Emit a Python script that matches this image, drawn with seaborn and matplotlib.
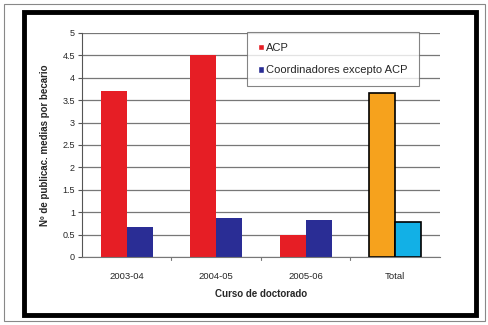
import matplotlib
matplotlib.use("Agg")
import matplotlib.pyplot as plt
import seaborn as sns
import pandas as pd
from matplotlib.patches import Rectangle, Patch

categories = ["2003-04", "2004-05", "2005-06", "Total"]
acp = [3.7, 4.5, 0.5, 3.65]
coord = [0.67, 0.86, 0.83, 0.78]
series_names = ["ACP", "Coordinadores excepto ACP"]
yticks = [0, 0.5, 1, 1.5, 2, 2.5, 3, 3.5, 4, 4.5, 5]
ytick_labels = ["0", "0.5", "1", "1.5", "2", "2.5", "3", "3.5", "4", "4.5", "5"]

df = pd.DataFrame({
    "curso": categories * 2,
    "serie": [series_names[0]] * 4 + [series_names[1]] * 4,
    "valor": acp + coord,
})

sns.set_style("white")
plt.rcParams["font.family"] = ["Liberation Sans", "DejaVu Sans"]

W, H = 489, 325
fig = plt.figure(figsize=(W / 100, H / 100), dpi=100)
fig.patch.set_facecolor("white")

# frames
fig.add_artist(Rectangle((4 / W, 4 / H), 481 / W, 317 / H, transform=fig.transFigure,
                         fill=False, edgecolor="#888888", linewidth=0.8))
fig.add_artist(Rectangle((24 / W, (H - 315) / H), 452 / W, 303 / H, transform=fig.transFigure,
                         fill=False, edgecolor="black", linewidth=3.5))

ax = fig.add_axes([82 / W, (H - 257) / H, (440 - 82) / W, (257 - 33) / H])
red, blue = "#e61e25", "#2a2d95"
sns.barplot(data=df, x="curso", y="valor", hue="serie", order=categories,
            hue_order=series_names, palette=[red, blue], width=0.58,
            saturation=1, ax=ax, legend=False, linewidth=0)

# Total bars coloured differently with black edges
n = len(categories)
for i, p in enumerate(ax.patches[:2 * n]):
    cat_idx = i % n
    p.set_linewidth(0)
    if cat_idx == n - 1:
        p.set_facecolor("#f6a21d" if i < n else "#12b0e6")
        p.set_edgecolor("black")
        p.set_linewidth(1.2)

ax.set_ylim(0, 5)
ax.set_yticks(yticks)
ax.set_yticklabels(ytick_labels)
ax.set_xlim(-0.5, n - 0.5)
ax.yaxis.grid(True, color="#777777", linewidth=0.9)
ax.set_axisbelow(True)
for s in ["top", "right"]:
    ax.spines[s].set_visible(False)
ax.spines["left"].set_color("#555555")
ax.spines["bottom"].set_color("#777777")
ax.tick_params(axis="y", left=True, length=3, color="#555555", labelsize=6.5, pad=2)
ax.tick_params(axis="x", bottom=False, labelsize=6.8, pad=7)
for xb in [0.5, 1.5, 2.5]:
    ax.plot([xb, xb], [0, -0.06], color="#777777", lw=0.8, clip_on=False,
            transform=ax.transData)
ax.set_xlabel("Curso de doctorado", fontsize=7, fontweight="bold", labelpad=6)
ax.set_ylabel("Nº de publicac. medias por becario", fontsize=7, fontweight="bold", labelpad=9)

handles = [Patch(facecolor=red), Patch(facecolor=blue)]
leg = fig.legend(handles, series_names, loc="upper left",
                 bbox_to_anchor=(247 / W, 1 - 32 / H), fontsize=8,
                 frameon=True, fancybox=False, edgecolor="#666666",
                 handlelength=0.5, handleheight=0.5, handletextpad=0.25,
                 labelspacing=1.1, borderpad=1.0, borderaxespad=0)
leg.get_frame().set_linewidth(0.8)

fig.savefig("out.png", dpi=100)
